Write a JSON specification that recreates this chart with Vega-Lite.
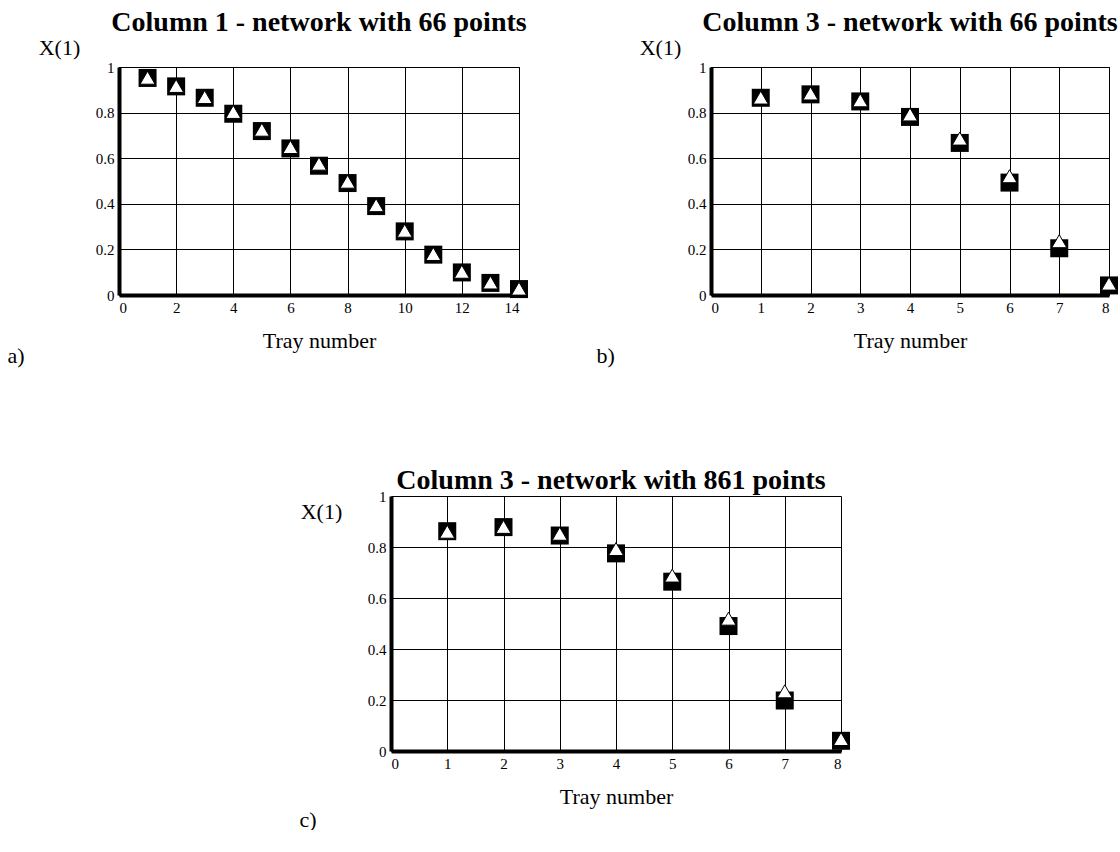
{
  "$schema": "https://vega.github.io/schema/vega-lite/v6.json",
  "background": "white",
  "padding": {"left": 6, "top": 8, "right": 0, "bottom": 0},
  "config": {
    "font": "Liberation Serif",
    "view": {"stroke": "black", "strokeWidth": 1},
    "axis": {
      "labelFont": "Liberation Serif",
      "labelFontSize": 15,
      "labelColor": "black",
      "grid": true,
      "gridColor": "black",
      "gridOpacity": 1,
      "gridWidth": 1,
      "domainColor": "black",
      "domainWidth": 4,
      "ticks": false,
      "labelPadding": 5,
      "titleFont": "Liberation Serif",
      "titleFontWeight": "normal",
      "titleFontSize": 22,
      "titleColor": "black"
    },
    "title": {"font": "Liberation Serif", "fontSize": 28, "fontWeight": "bold", "color": "black"}
  },
  "datasets": {
    "col1_66": [
      {"tray": 1, "sq": 0.952, "tri": 0.953},
      {"tray": 2, "sq": 0.915, "tri": 0.917},
      {"tray": 3, "sq": 0.865, "tri": 0.868},
      {"tray": 4, "sq": 0.795, "tri": 0.803},
      {"tray": 5, "sq": 0.719, "tri": 0.725},
      {"tray": 6, "sq": 0.643, "tri": 0.649},
      {"tray": 7, "sq": 0.567, "tri": 0.576},
      {"tray": 8, "sq": 0.491, "tri": 0.497},
      {"tray": 9, "sq": 0.39, "tri": 0.394},
      {"tray": 10, "sq": 0.279, "tri": 0.282},
      {"tray": 11, "sq": 0.177, "tri": 0.18},
      {"tray": 12, "sq": 0.099, "tri": 0.102},
      {"tray": 13, "sq": 0.053, "tri": 0.055},
      {"tray": 14, "sq": 0.026, "tri": 0.028}
    ],
    "col3_66": [
      {"tray": 1, "sq": 0.865, "tri": 0.866},
      {"tray": 2, "sq": 0.88, "tri": 0.884},
      {"tray": 3, "sq": 0.849, "tri": 0.854},
      {"tray": 4, "sq": 0.781, "tri": 0.792},
      {"tray": 5, "sq": 0.667, "tri": 0.686},
      {"tray": 6, "sq": 0.493, "tri": 0.521},
      {"tray": 7, "sq": 0.205, "tri": 0.236},
      {"tray": 8, "sq": 0.042, "tri": 0.05}
    ],
    "col3_861": [
      {"tray": 1, "sq": 0.862, "tri": 0.86},
      {"tray": 2, "sq": 0.878, "tri": 0.879},
      {"tray": 3, "sq": 0.845, "tri": 0.852},
      {"tray": 4, "sq": 0.775, "tri": 0.792},
      {"tray": 5, "sq": 0.664, "tri": 0.688},
      {"tray": 6, "sq": 0.49, "tri": 0.519},
      {"tray": 7, "sq": 0.198, "tri": 0.234},
      {"tray": 8, "sq": 0.04, "tri": 0.047}
    ]
  },
  "vconcat": [
    {
      "hconcat": [
        {
          "title": {"text": "Column 1 - network with 66 points", "offset": -1},
          "width": 400,
          "height": 228,
          "data": {"name": "col1_66"},
          "resolve": {"axis": {"x": "independent"}},
          "layer": [
            {
              "mark": {"type": "point", "shape": "square", "filled": true, "color": "black", "size": 324, "opacity": 1},
              "encoding": {
                "x": {"field": "tray", "type": "quantitative", "scale": {"domain": [0, 14], "nice": false},
                      "axis": {"values": [0, 2, 4, 6, 8, 10, 12, 14], "title": "Tray number",
                               "titleY": 45, "titleBaseline": "middle"}},
                "y": {"field": "sq", "type": "quantitative", "scale": {"domain": [0, 1], "nice": false},
                      "axis": {"values": [0, 0.2, 0.4, 0.6, 0.8, 1], "format": "~g", "title": "X(1)", "titleAngle": 0,
                               "titleAlign": "center", "titleBaseline": "middle", "titleX": -60, "titleY": -20}}
              }
            },
            {
              "mark": {"type": "point", "shape": "triangle-up", "filled": true, "fill": "white", "stroke": "black", "strokeWidth": 1, "size": 225, "opacity": 1},
              "encoding": {
                "x": {"field": "tray", "type": "quantitative", "scale": {"domain": [0, 14], "nice": false},
                      "axis": {"orient": "top", "labels": false, "domain": false, "grid": false, "ticks": false,
                               "title": "a)", "titleAlign": "left", "titleBaseline": "middle", "titleX": -112, "titleY": 288}},
                "y": {"field": "tri", "type": "quantitative"}
              }
            }
          ]
        },
        {
          "title": {"text": "Column 3 - network with 66 points", "offset": -1},
          "width": 398,
          "height": 228,
          "data": {"name": "col3_66"},
          "resolve": {"axis": {"x": "independent"}},
          "layer": [
            {
              "mark": {"type": "point", "shape": "square", "filled": true, "color": "black", "size": 324, "opacity": 1},
              "encoding": {
                "x": {"field": "tray", "type": "quantitative", "scale": {"domain": [0, 8], "nice": false},
                      "axis": {"values": [0, 1, 2, 3, 4, 5, 6, 7, 8], "title": "Tray number",
                               "titleY": 45, "titleBaseline": "middle"}},
                "y": {"field": "sq", "type": "quantitative", "scale": {"domain": [0, 1], "nice": false},
                      "axis": {"values": [0, 0.2, 0.4, 0.6, 0.8, 1], "format": "~g", "title": "X(1)", "titleAngle": 0,
                               "titleAlign": "center", "titleBaseline": "middle", "titleX": -51, "titleY": -20}}
              }
            },
            {
              "mark": {"type": "point", "shape": "triangle-up", "filled": true, "fill": "white", "stroke": "black", "strokeWidth": 1, "size": 225, "opacity": 1},
              "encoding": {
                "x": {"field": "tray", "type": "quantitative", "scale": {"domain": [0, 8], "nice": false},
                      "axis": {"orient": "top", "labels": false, "domain": false, "grid": false, "ticks": false,
                               "title": "b)", "titleAlign": "left", "titleBaseline": "middle", "titleX": -115, "titleY": 288}},
                "y": {"field": "tri", "type": "quantitative"}
              }
            }
          ]
        }
      ],
      "spacing": 192,
      "bounds": "flush"
    },
    {
      "title": {"text": "Column 3 - network with 861 points", "offset": -6, "dx": 131},
      "width": 722,
      "height": 255,
      "view": {"stroke": null},
      "data": {"name": "col3_861"},
      "resolve": {"axis": {"x": "independent"}},
      "layer": [
        {
          "mark": {"type": "point", "shape": "square", "filled": true, "color": "black", "size": 324, "opacity": 1},
          "encoding": {
            "x": {"field": "tray", "type": "quantitative", "scale": {"domain": [0, 8], "nice": false, "range": [272, 722]},
                  "axis": {"values": [0, 1, 2, 3, 4, 5, 6, 7, 8], "title": "Tray number",
                           "titleY": 45, "titleBaseline": "middle"}},
            "y": {"field": "sq", "type": "quantitative", "scale": {"domain": [0, 1], "nice": false},
                  "axis": {"values": [0, 0.2, 0.4, 0.6, 0.8, 1], "format": "~g", "title": "X(1)", "titleAngle": 0, "offset": -272,
                           "titleAlign": "center", "titleBaseline": "middle", "titleX": -70, "titleY": 15}}
          }
        },
        {
          "mark": {"type": "point", "shape": "triangle-up", "filled": true, "fill": "white", "stroke": "black", "strokeWidth": 1, "size": 225, "opacity": 1},
          "encoding": {
            "x": {"field": "tray", "type": "quantitative", "scale": {"domain": [0, 8], "nice": false, "range": [272, 722]},
                  "axis": {"orient": "top", "labels": false, "domain": false, "grid": false, "ticks": false,
                           "title": "c)", "titleAlign": "left", "titleBaseline": "middle", "titleX": 180, "titleY": 323}},
            "y": {"field": "tri", "type": "quantitative"}
          }
        }
      ]
    }
  ],
  "spacing": 100
}
